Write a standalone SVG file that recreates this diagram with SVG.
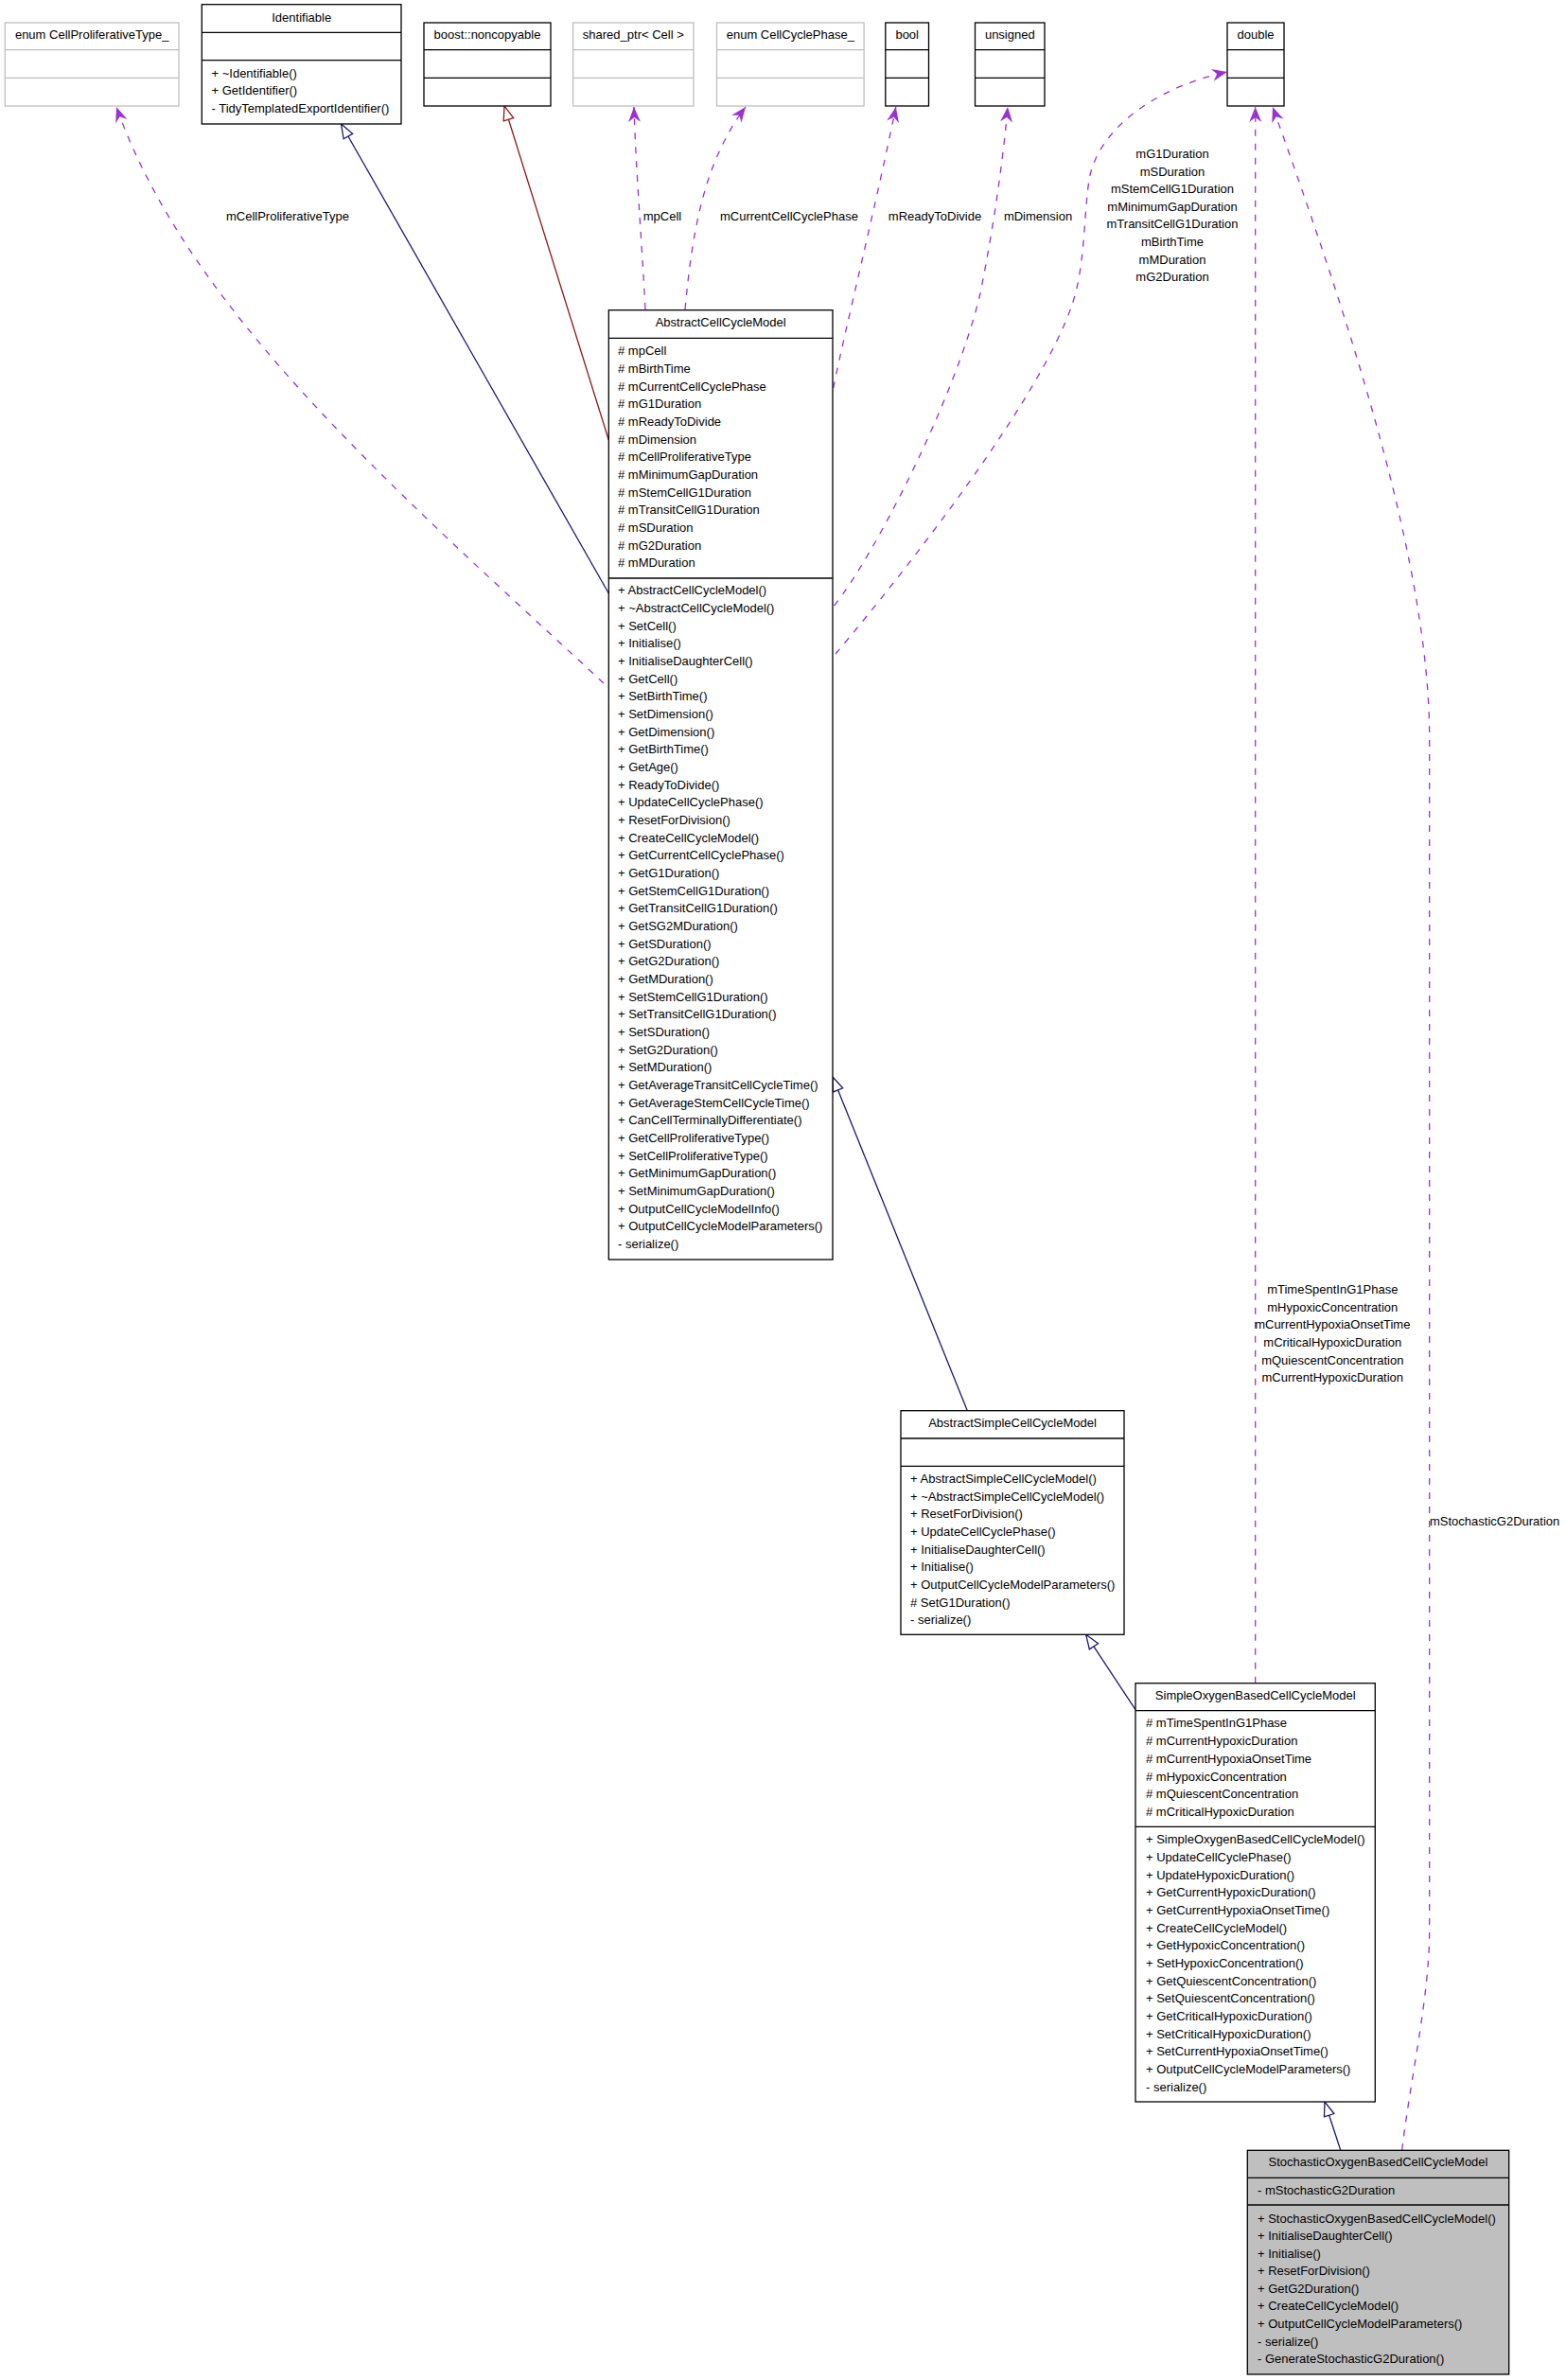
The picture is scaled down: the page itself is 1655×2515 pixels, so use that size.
<svg xmlns="http://www.w3.org/2000/svg" width="1655" height="2515" viewBox="0 0 1655 2515">
<style>
.bg{fill:#fff}
.box{fill:#fff;stroke:#000;stroke-width:1.3}
.gbox{fill:#fff;stroke:#bfbfbf;stroke-width:1.3}
.sh{fill:#bfbfbf;stroke:#000;stroke-width:1.3}
.ln{stroke:#000;stroke-width:1.3}
.gln{stroke:#bfbfbf;stroke-width:1.3}
text{font-family:"Liberation Sans",Arial,Helvetica,sans-serif;font-size:13px;fill:#000}
.c{text-anchor:middle}
.dep{fill:none;stroke:#9a32cd;stroke-width:1.3;stroke-dasharray:7,8}
.inh{fill:none;stroke:#191970;stroke-width:1.3}
.priv{fill:none;stroke:#8b1a1a;stroke-width:1.3}
</style>
<defs>
<marker id="vee" markerUnits="userSpaceOnUse" viewBox="-18 -8 19 16" refX="0" refY="0" markerWidth="19" markerHeight="16" orient="auto">
<path d="M0,0 L-16,-6.5 L-11,0 L-16,6.5 Z" fill="#9a32cd"/>
</marker>
<marker id="triB" markerUnits="userSpaceOnUse" viewBox="-18 -8 20 16" refX="0" refY="0" markerWidth="20" markerHeight="16" orient="auto">
<path d="M0,0 L-15,-5.5 L-15,5.5 Z" fill="#fff" stroke="#191970" stroke-width="1.3"/>
</marker>
<marker id="triR" markerUnits="userSpaceOnUse" viewBox="-18 -8 20 16" refX="0" refY="0" markerWidth="20" markerHeight="16" orient="auto">
<path d="M0,0 L-15,-5.5 L-15,5.5 Z" fill="#fff" stroke="#8b1a1a" stroke-width="1.3"/>
</marker>
</defs>
<rect class="bg" x="0" y="0" width="1655" height="2515"/>

<g id="connectors">
<path class="inh" d="M643.3,627 L360.5,131" marker-end="url(#triB)"/>
<path class="priv" d="M643.3,465 L533,112" marker-end="url(#triR)"/>
<path class="inh" d="M1022.3,1490.7 L880,1138" marker-end="url(#triB)"/>
<path class="inh" d="M1200,1806.7 L1147.7,1727.3" marker-end="url(#triB)"/>
<path class="inh" d="M1416.7,2272 L1400,2221" marker-end="url(#triB)"/>

<path class="dep" d="M638,722 C420,520 200,330 123,113" marker-end="url(#vee)"/>
<path class="dep" d="M682,327 C678,250 672,180 670,113" marker-end="url(#vee)"/>
<path class="dep" d="M724,327 C732,240 745,170 788,113" marker-end="url(#vee)"/>
<path class="dep" d="M880.7,410 C895,340 925,220 946.8,113" marker-end="url(#vee)"/>
<path class="dep" d="M881.7,640 C925,585 1010,420 1036,310 C1050,240 1060,170 1065,113" marker-end="url(#vee)"/>
<path class="dep" d="M883,691 C960,600 1100,420 1133,322 C1148,278 1145,220 1152,185 C1165,130 1230,90 1297,76" marker-end="url(#vee)"/>
<path class="dep" d="M1326.7,1778.7 L1326.7,113" marker-end="url(#vee)"/>
<path class="dep" d="M1481.7,2272 C1490,2200 1510.7,2110 1510.7,2040 L1510.7,780 C1510.7,600 1430,350 1345,113" marker-end="url(#vee)"/>

<text class="c" x="304" y="232.5">mCellProliferativeType</text>
<text class="c" x="700" y="232.5">mpCell</text>
<text class="c" x="834" y="232.5">mCurrentCellCyclePhase</text>
<text class="c" x="988" y="232.5">mReadyToDivide</text>
<text class="c" x="1097" y="232.5">mDimension</text>
<text class="c" x="1239" y="167.2">mG1Duration<tspan x="1239" dy="18.57">mSDuration</tspan><tspan x="1239" dy="18.57">mStemCellG1Duration</tspan><tspan x="1239" dy="18.57">mMinimumGapDuration</tspan><tspan x="1239" dy="18.57">mTransitCellG1Duration</tspan><tspan x="1239" dy="18.57">mBirthTime</tspan><tspan x="1239" dy="18.57">mMDuration</tspan><tspan x="1239" dy="18.57">mG2Duration</tspan></text>
<text class="c" x="1408.3" y="1367.2">mTimeSpentInG1Phase<tspan x="1408.3" dy="18.6">mHypoxicConcentration</tspan><tspan x="1408.3" dy="18.6">mCurrentHypoxiaOnsetTime</tspan><tspan x="1408.3" dy="18.6">mCriticalHypoxicDuration</tspan><tspan x="1408.3" dy="18.6">mQuiescentConcentration</tspan><tspan x="1408.3" dy="18.6">mCurrentHypoxicDuration</tspan></text>
<text x="1511" y="1612">mStochasticG2Duration</text>
</g>

<g id="enum_CellProliferativeType">
<rect class="gbox" x="5.3" y="24" width="183.7" height="88"/>
<line class="gln" x1="5.3" y1="52.7" x2="189" y2="52.7"/>
<line class="gln" x1="5.3" y1="82.3" x2="189" y2="82.3"/>
<text class="c" x="97.2" y="41">enum CellProliferativeType_</text>
</g>

<g id="Identifiable">
<rect class="box" x="213.3" y="4.7" width="210.7" height="126.3"/>
<line class="ln" x1="213.3" y1="34.3" x2="424" y2="34.3"/>
<line class="ln" x1="213.3" y1="63.7" x2="424" y2="63.7"/>
<text class="c" x="318.7" y="23">Identifiable</text>
<text x="223.5" y="81.5">+ ~Identifiable()<tspan x="223.5" dy="18.65">+ GetIdentifier()</tspan><tspan x="223.5" dy="18.65">- TidyTemplatedExportIdentifier()</tspan></text>
</g>

<g id="boost_noncopyable">
<rect class="box" x="448" y="24" width="134" height="88"/>
<line class="ln" x1="448" y1="52.7" x2="582" y2="52.7"/>
<line class="ln" x1="448" y1="82.3" x2="582" y2="82.3"/>
<text class="c" x="515" y="41">boost::noncopyable</text>
</g>

<g id="shared_ptr_Cell">
<rect class="gbox" x="605.6" y="24" width="127.4" height="88"/>
<line class="gln" x1="605.6" y1="52.7" x2="733" y2="52.7"/>
<line class="gln" x1="605.6" y1="82.3" x2="733" y2="82.3"/>
<text class="c" x="669.3" y="41">shared_ptr&lt; Cell &gt;</text>
</g>

<g id="enum_CellCyclePhase">
<rect class="gbox" x="757.5" y="24" width="155.6" height="88"/>
<line class="gln" x1="757.5" y1="52.7" x2="913.1" y2="52.7"/>
<line class="gln" x1="757.5" y1="82.3" x2="913.1" y2="82.3"/>
<text class="c" x="835.3" y="41">enum CellCyclePhase_</text>
</g>

<g id="bool">
<rect class="box" x="935.8" y="24" width="45.7" height="88"/>
<line class="ln" x1="935.8" y1="52.7" x2="981.5" y2="52.7"/>
<line class="ln" x1="935.8" y1="82.3" x2="981.5" y2="82.3"/>
<text class="c" x="958.7" y="41">bool</text>
</g>

<g id="unsigned">
<rect class="box" x="1030.5" y="24" width="73.5" height="88"/>
<line class="ln" x1="1030.5" y1="52.7" x2="1104" y2="52.7"/>
<line class="ln" x1="1030.5" y1="82.3" x2="1104" y2="82.3"/>
<text class="c" x="1067.3" y="41">unsigned</text>
</g>

<g id="double">
<rect class="box" x="1297" y="24" width="60" height="88"/>
<line class="ln" x1="1297" y1="52.7" x2="1357" y2="52.7"/>
<line class="ln" x1="1297" y1="82.3" x2="1357" y2="82.3"/>
<text class="c" x="1327" y="41">double</text>
</g>

<g id="AbstractCellCycleModel">
<rect class="box" x="643.3" y="327.7" width="236.7" height="1003.3"/>
<line class="ln" x1="643.3" y1="357.3" x2="880" y2="357.3"/>
<line class="ln" x1="643.3" y1="611" x2="880" y2="611"/>
<text class="c" x="761.7" y="345.2">AbstractCellCycleModel</text>
<text x="653" y="375.2"># mpCell<tspan x="653" dy="18.67"># mBirthTime</tspan><tspan x="653" dy="18.67"># mCurrentCellCyclePhase</tspan><tspan x="653" dy="18.67"># mG1Duration</tspan><tspan x="653" dy="18.67"># mReadyToDivide</tspan><tspan x="653" dy="18.67"># mDimension</tspan><tspan x="653" dy="18.67"># mCellProliferativeType</tspan><tspan x="653" dy="18.67"># mMinimumGapDuration</tspan><tspan x="653" dy="18.67"># mStemCellG1Duration</tspan><tspan x="653" dy="18.67"># mTransitCellG1Duration</tspan><tspan x="653" dy="18.67"># mSDuration</tspan><tspan x="653" dy="18.67"># mG2Duration</tspan><tspan x="653" dy="18.67"># mMDuration</tspan></text>
<text x="653" y="628.3">+ AbstractCellCycleModel()<tspan x="653" dy="18.67">+ ~AbstractCellCycleModel()</tspan><tspan x="653" dy="18.67">+ SetCell()</tspan><tspan x="653" dy="18.67">+ Initialise()</tspan><tspan x="653" dy="18.67">+ InitialiseDaughterCell()</tspan><tspan x="653" dy="18.67">+ GetCell()</tspan><tspan x="653" dy="18.67">+ SetBirthTime()</tspan><tspan x="653" dy="18.67">+ SetDimension()</tspan><tspan x="653" dy="18.67">+ GetDimension()</tspan><tspan x="653" dy="18.67">+ GetBirthTime()</tspan><tspan x="653" dy="18.67">+ GetAge()</tspan><tspan x="653" dy="18.67">+ ReadyToDivide()</tspan><tspan x="653" dy="18.67">+ UpdateCellCyclePhase()</tspan><tspan x="653" dy="18.67">+ ResetForDivision()</tspan><tspan x="653" dy="18.67">+ CreateCellCycleModel()</tspan><tspan x="653" dy="18.67">+ GetCurrentCellCyclePhase()</tspan><tspan x="653" dy="18.67">+ GetG1Duration()</tspan><tspan x="653" dy="18.67">+ GetStemCellG1Duration()</tspan><tspan x="653" dy="18.67">+ GetTransitCellG1Duration()</tspan><tspan x="653" dy="18.67">+ GetSG2MDuration()</tspan><tspan x="653" dy="18.67">+ GetSDuration()</tspan><tspan x="653" dy="18.67">+ GetG2Duration()</tspan><tspan x="653" dy="18.67">+ GetMDuration()</tspan><tspan x="653" dy="18.67">+ SetStemCellG1Duration()</tspan><tspan x="653" dy="18.67">+ SetTransitCellG1Duration()</tspan><tspan x="653" dy="18.67">+ SetSDuration()</tspan><tspan x="653" dy="18.67">+ SetG2Duration()</tspan><tspan x="653" dy="18.67">+ SetMDuration()</tspan><tspan x="653" dy="18.67">+ GetAverageTransitCellCycleTime()</tspan><tspan x="653" dy="18.67">+ GetAverageStemCellCycleTime()</tspan><tspan x="653" dy="18.67">+ CanCellTerminallyDifferentiate()</tspan><tspan x="653" dy="18.67">+ GetCellProliferativeType()</tspan><tspan x="653" dy="18.67">+ SetCellProliferativeType()</tspan><tspan x="653" dy="18.67">+ GetMinimumGapDuration()</tspan><tspan x="653" dy="18.67">+ SetMinimumGapDuration()</tspan><tspan x="653" dy="18.67">+ OutputCellCycleModelInfo()</tspan><tspan x="653" dy="18.67">+ OutputCellCycleModelParameters()</tspan><tspan x="653" dy="18.67">- serialize()</tspan></text>
</g>

<g id="AbstractSimpleCellCycleModel">
<rect class="box" x="952" y="1490.7" width="236" height="236.6"/>
<line class="ln" x1="952" y1="1520" x2="1188" y2="1520"/>
<line class="ln" x1="952" y1="1549.3" x2="1188" y2="1549.3"/>
<text class="c" x="1070" y="1508">AbstractSimpleCellCycleModel</text>
<text x="962" y="1567.2">+ AbstractSimpleCellCycleModel()<tspan x="962" dy="18.62">+ ~AbstractSimpleCellCycleModel()</tspan><tspan x="962" dy="18.62">+ ResetForDivision()</tspan><tspan x="962" dy="18.62">+ UpdateCellCyclePhase()</tspan><tspan x="962" dy="18.62">+ InitialiseDaughterCell()</tspan><tspan x="962" dy="18.62">+ Initialise()</tspan><tspan x="962" dy="18.62">+ OutputCellCycleModelParameters()</tspan><tspan x="962" dy="18.62"># SetG1Duration()</tspan><tspan x="962" dy="18.62">- serialize()</tspan></text>
</g>

<g id="SimpleOxygenBasedCellCycleModel">
<rect class="box" x="1200" y="1778.7" width="253.3" height="442.3"/>
<line class="ln" x1="1200" y1="1807.7" x2="1453.3" y2="1807.7"/>
<line class="ln" x1="1200" y1="1930.3" x2="1453.3" y2="1930.3"/>
<text class="c" x="1326.7" y="1796.2">SimpleOxygenBasedCellCycleModel</text>
<text x="1211" y="1825.2"># mTimeSpentInG1Phase<tspan x="1211" dy="18.8"># mCurrentHypoxicDuration</tspan><tspan x="1211" dy="18.8"># mCurrentHypoxiaOnsetTime</tspan><tspan x="1211" dy="18.8"># mHypoxicConcentration</tspan><tspan x="1211" dy="18.8"># mQuiescentConcentration</tspan><tspan x="1211" dy="18.8"># mCriticalHypoxicDuration</tspan></text>
<text x="1211" y="1948.2">+ SimpleOxygenBasedCellCycleModel()<tspan x="1211" dy="18.69">+ UpdateCellCyclePhase()</tspan><tspan x="1211" dy="18.69">+ UpdateHypoxicDuration()</tspan><tspan x="1211" dy="18.69">+ GetCurrentHypoxicDuration()</tspan><tspan x="1211" dy="18.69">+ GetCurrentHypoxiaOnsetTime()</tspan><tspan x="1211" dy="18.69">+ CreateCellCycleModel()</tspan><tspan x="1211" dy="18.69">+ GetHypoxicConcentration()</tspan><tspan x="1211" dy="18.69">+ SetHypoxicConcentration()</tspan><tspan x="1211" dy="18.69">+ GetQuiescentConcentration()</tspan><tspan x="1211" dy="18.69">+ SetQuiescentConcentration()</tspan><tspan x="1211" dy="18.69">+ GetCriticalHypoxicDuration()</tspan><tspan x="1211" dy="18.69">+ SetCriticalHypoxicDuration()</tspan><tspan x="1211" dy="18.69">+ SetCurrentHypoxiaOnsetTime()</tspan><tspan x="1211" dy="18.69">+ OutputCellCycleModelParameters()</tspan><tspan x="1211" dy="18.69">- serialize()</tspan></text>
</g>

<g id="StochasticOxygenBasedCellCycleModel">
<rect class="sh" x="1318.3" y="2272.3" width="276.4" height="236.7"/>
<line class="ln" x1="1318.3" y1="2301.3" x2="1594.7" y2="2301.3"/>
<line class="ln" x1="1318.3" y1="2330" x2="1594.7" y2="2330"/>
<text class="c" x="1456.5" y="2289">StochasticOxygenBasedCellCycleModel</text>
<text x="1329" y="2318.8">- mStochasticG2Duration</text>
<text x="1329" y="2348.5">+ StochasticOxygenBasedCellCycleModel()<tspan x="1329" dy="18.59">+ InitialiseDaughterCell()</tspan><tspan x="1329" dy="18.59">+ Initialise()</tspan><tspan x="1329" dy="18.59">+ ResetForDivision()</tspan><tspan x="1329" dy="18.59">+ GetG2Duration()</tspan><tspan x="1329" dy="18.59">+ CreateCellCycleModel()</tspan><tspan x="1329" dy="18.59">+ OutputCellCycleModelParameters()</tspan><tspan x="1329" dy="18.59">- serialize()</tspan><tspan x="1329" dy="18.59">- GenerateStochasticG2Duration()</tspan></text>
</g>
</svg>
